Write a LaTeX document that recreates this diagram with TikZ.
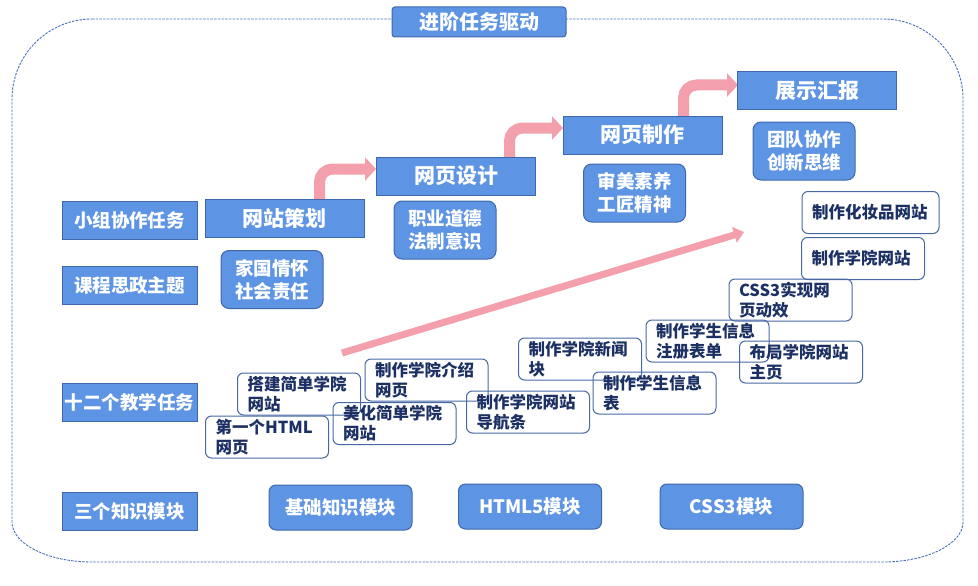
\documentclass[tikz,border=0pt]{standalone}
\usepackage{fontspec}
\setmainfont{Noto Sans CJK SC}
\usetikzlibrary{arrows.meta}
\definecolor{bfill}{RGB}{93,148,228}
\definecolor{bdraw}{RGB}{62,104,170}
\definecolor{pinkarr}{RGB}{243,160,172}
\definecolor{tdraw}{RGB}{72,104,164}
\definecolor{ttext}{RGB}{28,48,100}
\definecolor{dashc}{RGB}{72,112,190}
\begin{document}
\begin{tikzpicture}[x=1pt,y=-1pt,
  bluebox/.style={fill=bfill,draw=bdraw,line width=1pt,text=white,inner sep=0pt,align=center},
  lab/.style={bluebox,minimum width=135pt,minimum height=38pt,font=\fontsize{18.5pt}{22pt}\selectfont\bfseries},
  stage/.style={bluebox,minimum width=159pt,minimum height=38pt,font=\fontsize{21pt}{24pt}\selectfont\bfseries},
  valbox/.style={bluebox,rounded corners=8pt,minimum width=102pt,minimum height=58pt,font=\fontsize{18.5pt}{23pt}\selectfont\bfseries},
  modbox/.style={bluebox,rounded corners=7pt,minimum width=143pt,minimum height=45pt,font=\fontsize{18.5pt}{22pt}\selectfont\bfseries},
  titlebox/.style={bluebox,rounded corners=3pt,minimum width=174pt,minimum height=30pt,font=\fontsize{20pt}{22pt}\selectfont\bfseries},
  taskbox/.style={draw=tdraw,line width=1pt,rounded corners=6pt,text=ttext,align=left,inner xsep=10pt,inner ysep=0pt,
    minimum height=42pt,text width=103pt,font=\fontsize{16.5pt}{20pt}\selectfont\bfseries},
  elbow/.style={draw=pinkarr,line width=11pt,rounded corners=13pt,-{Triangle[width=23pt,length=11pt]}},
  diag/.style={draw=pinkarr,line width=7pt,-{Triangle[width=16pt,length=10pt]}}
]
\useasboundingbox (0,0) rectangle (978,586);
% outer dashed frame
\draw[dashc,line width=0.9pt,dash pattern=on 2.5pt off 1.2pt]
  (92,19) -- (883,19) .. controls (927,19) and (963,55) .. (963,99)
  -- (963,522) .. controls (963,544) and (927,562) .. (883,562)
  -- (92,562) .. controls (48,562) and (12,544) .. (12,522)
  -- (12,99) .. controls (12,55) and (48,19) .. (92,19) -- cycle;
\node[titlebox] (title) at (479,22) {进阶任务驱动};

% left labels
\node[lab] (l1) at (129.5,220) {小组协作任务};
\node[lab] (l2) at (129.5,285) {课程思政主题};
\node[lab] (l3) at (129.5,402) {十二个教学任务};
\node[lab] (l4) at (129.5,511) {三个知识模块};

% stage boxes (arrows drawn first, behind the boxes)
\coordinate (sA) at (284.5,218);
\coordinate (sB) at (456,176);
\coordinate (sC) at (642.5,135);
\coordinate (sD) at (817,91);
\draw[elbow] (319.5,218) |- (376,169);
\draw[elbow] (509.5,176) |- (563,128);
\draw[elbow] (683.5,135) |- (738,85);
\node[stage] (s1) at (sA) {网站策划};
\node[stage] (s2) at (sB) {网页设计};
\node[stage] (s3) at (sC) {网页制作};
\node[stage] (s4) at (sD) {展示汇报};

% values
\node[valbox] (v1) at (272,279.5) {家国情怀\\社会责任};
\node[valbox] (v2) at (445,230) {职业道德\\法制意识};
\node[valbox] (v3) at (634.5,193) {审美素养\\工匠精神};
\node[valbox] (v4) at (804,151) {团队协作\\创新思维};

% diagonal arrow
\coordinate (dstart) at (342,353);
\coordinate (dend) at (744,232);
\draw[diag] (dstart) -- (dend);

% tasks
\node[taskbox] (t1) at (267,437) {第一个HTML\\网页};
\node[taskbox] (t2) at (299,394) {搭建简单学院\\网站};
\node[taskbox] (t3) at (394.5,423.5) {美化简单学院\\网站};
\node[taskbox] (t4) at (426.5,380) {制作学院介绍\\网页};
\node[taskbox] (t5) at (528,412) {制作学院网站\\导航条};
\node[taskbox] (t6) at (580,359) {制作学院新闻\\块};
\node[taskbox] (t7) at (654.5,393) {制作学生信息\\表};
\node[taskbox] (t8) at (707.5,341) {制作学生信息\\注册表单};
\node[taskbox] (t9) at (801,362) {布局学院网站\\主页};
\node[taskbox] (t10) at (790.5,300) {CSS3实现网\\页动效};
\node[taskbox] (t11) at (863,258.5) {制作学院网站};
\node[taskbox,text width=117pt] (t12) at (870.5,212.5) {制作化妆品网站};

% modules
\node[modbox] (m1) at (340.5,507.5) {基础知识模块};
\node[modbox] (m2) at (530,506.5) {HTML5模块};
\node[modbox] (m3) at (731.5,506.5) {CSS3模块};
\end{tikzpicture}
\end{document}
